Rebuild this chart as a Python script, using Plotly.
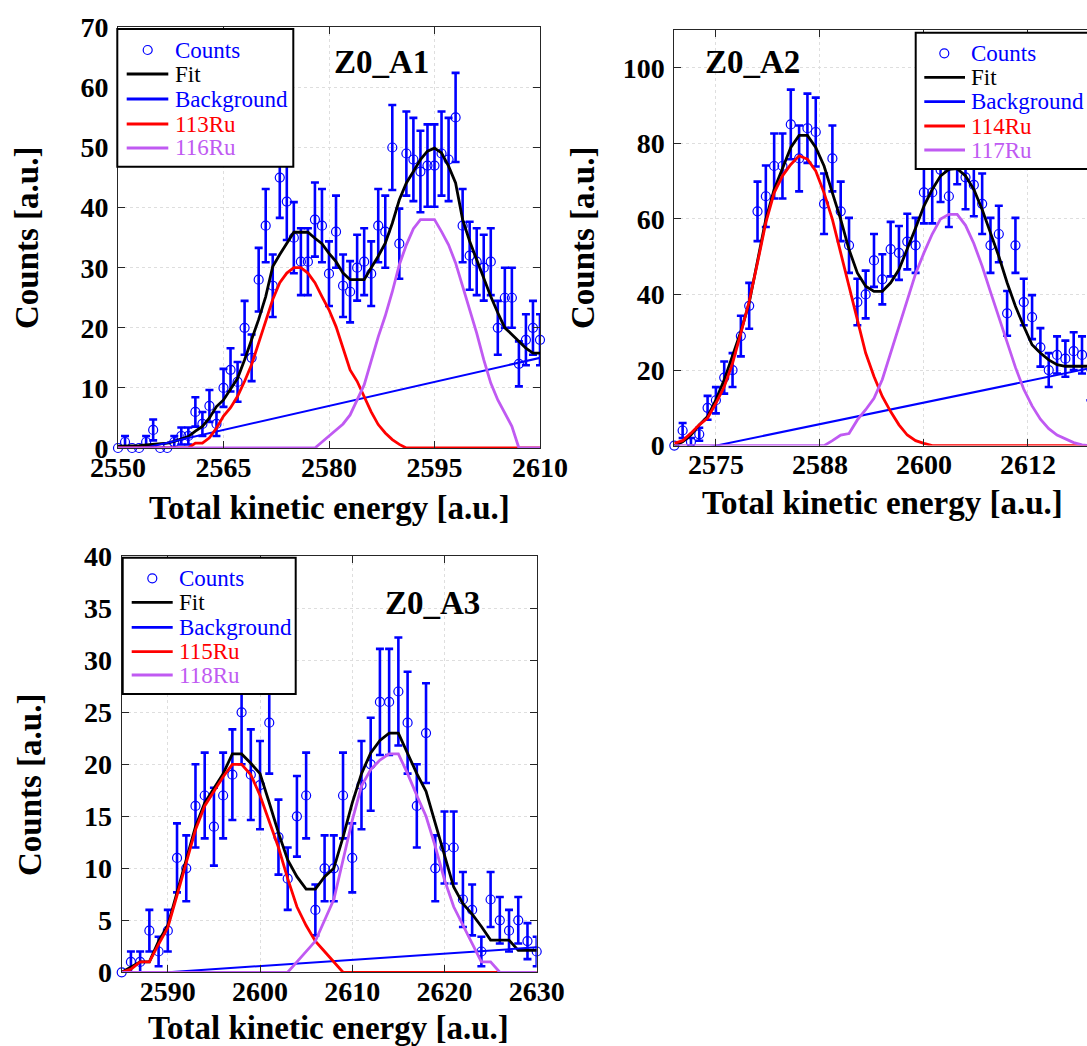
import numpy as np
import plotly.graph_objects as go

W, H = 1087, 1046
FONT = "Liberation Serif"
BLUE = "#0000FF"
RED = "#FF0000"
PURPLE = "#C05AF2"
BLACK = "#000000"
FRAME = "#262626"

# ---------------- data: Z0_A1 ----------------
a1_x = list(range(2550, 2611))
a1_counts = [0, 1, 0, 0, 1, 3, 0, 0, 1, 2, 2,
             6, 4, 7, 4, 10, 13, 11, 20, 15, 28,
             37, 27, 45, 41, 35, 31, 31, 38, 37, 29,
             36, 27, 26, 30, 31, 29, 37, 36, 50, 34,
             49, 48, 46, 47, 47, 49, 48, 55, 37, 32,
             31, 30, 31, 20, 25, 25, 14, 18, 20, 18]
a1_fit = [0.3, 0.3, 0.3, 0.4, 0.5, 0.6, 0.7, 0.8, 1.1, 1.5, 1.9,
          2.8, 3.6, 5.0, 6.9, 8.0, 9.7, 11.6, 14.7, 18.0, 21.4,
          25.2, 30.2, 32.2, 34.0, 35.9, 35.9, 35.9, 34.9, 34.0, 32.4,
          31.0, 29.1, 28.0, 28.0, 28.0, 30.0, 31.9, 34.1, 37.4, 41.3,
          44.1, 46.0, 48.0, 49.4, 49.9, 49.1, 46.9, 44.1, 38.0, 34.4,
          31.3, 28.0, 25.2, 22.5, 20.0, 18.9, 17.7, 16.6, 15.8, 15.8]
a1_iso1 = [0] * 11 + [0.8, 0.8, 1.7, 3.3, 5.3, 6.7, 8.6, 11.1, 13.9, 17.5,
                      21.4, 24.7, 27.5, 29.1, 30.0, 30.0, 29.1, 27.5, 25.2, 23.0,
                      20.2, 16.4, 13.0, 11.1, 8.6, 6.0, 3.9, 2.5, 1.4, 0.6] + [0] * 20
a1_iso2 = [0] * 29 + [1, 2, 3, 4, 5.5, 8, 10.5, 14.5, 18.5, 22,
                      26, 30.5, 33.8, 36.5, 38, 38, 38, 36, 33.8, 30.8,
                      26.9, 23, 19.1, 14.7, 10.8, 8, 5.8, 3.6, 0, 0, 0, 0]
a1_bg_x = [2550, 2610]
a1_bg_y = [-1.0, 15.0]

# ---------------- data: Z0_A2 ----------------
a2_x = list(range(2570, 2621))
a2_counts = [0, 4, 1, 3, 10, 12, 18, 20, 29, 37,
             62, 66, 74, 74, 85, 76, 84, 83, 64, 76,
             62, 53, 38, 40, 49, 44, 52, 51, 54, 53,
             67, 67, 73, 66, 78, 71, 69, 64, 53, 56,
             35, 53, 38, 34, 26, 20, 24, 23, 25, 24,
             16]
a2_fit = [0, 1, 2.8, 5.5, 7.7, 12.1, 17.4, 23.6, 30.2, 37.8,
          48.4, 59.9, 67.8, 73.6, 78.9, 82.1, 82.1, 78.9, 74, 66.9,
          59.9, 51.9, 45.7, 42.2, 40.8, 40.8, 43.1, 46.6, 51.9, 57.6,
          63.4, 67.8, 71.4, 73.1, 73.3, 71.4, 67.8, 62.5, 56.3, 50.1,
          43.1, 36.9, 31.6, 26.7, 24.5, 22.7, 21.4, 21, 21, 21,
          21]
a2_iso1 = [0.6, 1.3, 3.3, 5.5, 7.3, 11.2, 15.6, 21.8, 29.8, 38.2,
           48.4, 59, 66.9, 71.4, 74.4, 76.7, 75.8, 72.7, 66.9, 59.9,
           51, 42.2, 33.3, 24.5, 18.3, 13, 9, 5.5, 2.8, 1.3,
           0.6] + [0] * 20
a2_iso2 = [0] * 19 + [1.3, 2.8, 3.2, 6.8, 9.5, 12.5, 17.5, 24.5, 31.6, 39,
                      45.5, 51, 56, 60, 61.2, 61.2, 58.3, 53.5, 47.5, 40.7,
                      34, 27, 20.7, 14.9, 10.5, 7, 4.5, 2.8, 1.7, 0.8, 0.2, 0]
a2_bg_x = [2570, 2620]
a2_bg_y = [-2.3, 20.5]

# ---------------- data: Z0_A3 ----------------
a3_x = list(range(2585, 2631))
a3_counts = [0, 1, 1, 4, 2, 4, 11, 10, 16, 17,
             14, 17, 19, 25, 19, 18, 24, 13, 9, 15,
             17, 6, 10, 10, 17, 11, 18, 20, 26, 26,
             27, 24, 16, 23, 10, 12, 12, 7, 6, 2,
             7, 5, 4, 5, 3, 2]
a3_fit = [0, 0.5, 1, 1, 3, 4.5, 7.6, 10.8, 14, 16.3,
          17.7, 19.1, 21, 21, 20.1, 19.1, 16.3, 13.4, 10.8, 9.2,
          8, 8, 9.2, 10, 13, 16.3, 19.1, 21.1, 22.3, 23,
          23, 21.1, 19.1, 17.4, 14.3, 11.4, 8.2, 6.6, 5.6, 4.4,
          3.1, 3.1, 3.1, 2.1, 2.1, 2.1]
a3_iso1 = [0, 0.3, 1, 1, 2.7, 4.3, 7.4, 10.6, 13.7, 16,
           17.4, 18.8, 20, 20, 19, 17, 14.5, 12, 9, 6.3,
           4.5, 3, 2, 1, 0] + [0] * 21
a3_iso2 = [0] * 19 + [1, 2, 3, 5, 7, 10.8, 14.6, 17.9, 19.5, 20.4,
                      21, 21, 19.1, 17, 15, 12.1, 8.9, 6.3, 4.5, 2.8,
                      1, 1, 0] + [0] * 4
a3_bg_x = [2585, 2630]
a3_bg_y = [-0.3, 2.4]


def px(x):
    return x / W


def py(y):
    return 1 - y / H


panels = [
    dict(ax="", x=a1_x, counts=a1_counts, fit=a1_fit, iso1=a1_iso1, iso2=a1_iso2,
         bgx=a1_bg_x, bgy=a1_bg_y, names=("113Ru", "116Ru")),
    dict(ax="2", x=a2_x, counts=a2_counts, fit=a2_fit, iso1=a2_iso1, iso2=a2_iso2,
         bgx=a2_bg_x, bgy=a2_bg_y, names=("114Ru", "117Ru")),
    dict(ax="3", x=a3_x, counts=a3_counts, fit=a3_fit, iso1=a3_iso1, iso2=a3_iso2,
         bgx=a3_bg_x, bgy=a3_bg_y, names=("115Ru", "118Ru")),
]

fig = go.Figure()
for p in panels:
    xa, ya = "x" + p["ax"], "y" + p["ax"]
    cnt = np.array(p["counts"], dtype=float)
    fig.add_trace(go.Scatter(
        x=p["x"], y=cnt, mode="markers", xaxis=xa, yaxis=ya, showlegend=False,
        cliponaxis=False,
        marker=dict(symbol="circle-open", size=9, color=BLUE, line=dict(width=1.2, color=BLUE)),
        error_y=dict(type="data", array=np.sqrt(cnt), color=BLUE, thickness=2.6, width=4)))
    fig.add_trace(go.Scatter(x=p["x"], y=p["fit"], mode="lines", xaxis=xa, yaxis=ya,
                             showlegend=False, line=dict(color=BLACK, width=2.8)))
    fig.add_trace(go.Scatter(x=p["bgx"], y=p["bgy"], mode="lines", xaxis=xa, yaxis=ya,
                             showlegend=False, line=dict(color=BLUE, width=2)))
    fig.add_trace(go.Scatter(x=p["x"], y=p["iso1"], mode="lines", xaxis=xa, yaxis=ya,
                             showlegend=False, line=dict(color=RED, width=2.8)))
    fig.add_trace(go.Scatter(x=p["x"], y=p["iso2"], mode="lines", xaxis=xa, yaxis=ya,
                             showlegend=False, line=dict(color=PURPLE, width=2.8)))

tickfont = dict(family=FONT, size=28, color="black", weight="bold")
common = dict(showline=True, linecolor=FRAME, linewidth=1, mirror="ticks",
              ticks="inside", ticklen=7, tickwidth=1, tickcolor=FRAME,
              showgrid=True, gridcolor="#dedede", griddash="dot", gridwidth=1,
              zeroline=False, tickfont=tickfont)
XSO = -6
YSO = 3

fig.update_layout(
    xaxis=dict(common, domain=[px(118), px(540)], range=[2550, 2610], anchor="y",
               tickvals=[2550, 2565, 2580, 2595, 2610], ticklabelstandoff=XSO),
    yaxis=dict(common, domain=[py(448), py(27.3)], range=[0, 70], anchor="x",
               tickvals=[0, 10, 20, 30, 40, 50, 60, 70], ticklabelstandoff=YSO),
    xaxis2=dict(common, domain=[px(674.3), 1.0], range=[2570, 2619.6], anchor="y2",
                tickvals=[2575, 2587.5, 2600, 2612.5],
                ticktext=["2575", "2588", "2600", "2612"], ticklabelstandoff=XSO),
    yaxis2=dict(common, domain=[py(445.6), py(30)], range=[0, 110], anchor="x2",
                tickvals=[0, 20, 40, 60, 80, 100], ticklabelstandoff=YSO),
    xaxis3=dict(common, domain=[px(121.7), px(536.7)], range=[2585, 2630], anchor="y3",
                tickvals=[2590, 2600, 2610, 2620, 2630], ticklabelstandoff=XSO),
    yaxis3=dict(common, domain=[py(972.3), py(556.3)], range=[0, 40], anchor="x3",
                tickvals=[0, 5, 10, 15, 20, 25, 30, 35, 40], ticklabelstandoff=YSO),
)
fig.layout.yaxis2.mirror = False

annotations = []
shapes = []
title_font = dict(family=FONT, size=33, color="black", weight="bold")


def ann(x, y, text, font, angle=0, xanchor="center"):
    annotations.append(dict(x=px(x), y=py(y), xref="paper", yref="paper", text=text,
                            showarrow=False, font=font, textangle=angle,
                            xanchor=xanchor, yanchor="middle"))


# panel titles
ann(381, 62, "Z0_A1", title_font)
ann(753, 62, "Z0_A2", title_font)
ann(432, 603, "Z0_A3", title_font)
# axis titles
ann(27, 238, "Counts [a.u.]", title_font, angle=-90)
ann(329, 508, "Total kinetic energy [a.u.]", title_font)
ann(583, 238, "Counts [a.u.]", title_font, angle=-90)
ann(882, 503, "Total kinetic energy [a.u.]", title_font)
ann(30, 785, "Counts [a.u.]", title_font, angle=-90)
ann(328, 1028, "Total kinetic energy [a.u.]", title_font)

# legends (drawn boxes)
legends = [
    dict(box=(117.3, 29, 293.3, 166.7), rows=[50, 74, 99, 124, 148],
         line=(126.7, 168.3), mk=147.7, tx=172.7, names=panels[0]["names"]),
    dict(box=(915.7, 32.7, 1100, 169), rows=[53.3, 77.3, 101.7, 126, 150],
         line=(924.3, 965), mk=944.3, tx=969.3, names=panels[1]["names"]),
    dict(box=(122.7, 557.7, 295.7, 694), rows=[578.3, 602.3, 627.3, 651.7, 675],
         line=(131.7, 172.7), mk=152.3, tx=176.7, names=panels[2]["names"]),
]
for lg in legends:
    x0, y0, x1, y1 = lg["box"]
    shapes.append(dict(type="rect", xref="paper", yref="paper", layer="above",
                       x0=px(x0), x1=px(x1), y0=py(y1), y1=py(y0),
                       fillcolor="white", line=dict(color="black", width=2)))
    r = lg["rows"]
    # Counts marker
    shapes.append(dict(type="circle", xref="paper", yref="paper", layer="above",
                       x0=px(lg["mk"] - 4.5), x1=px(lg["mk"] + 4.5),
                       y0=py(r[0] + 4.5), y1=py(r[0] - 4.5),
                       line=dict(color=BLUE, width=1.2)))
    items = [("Counts", BLUE, None), ("Fit", BLACK, BLACK), ("Background", BLUE, BLUE),
             (lg["names"][0], RED, RED), (lg["names"][1], PURPLE, PURPLE)]
    for (label, tcol, lcol), ry in zip(items, r):
        if lcol is not None:
            shapes.append(dict(type="line", xref="paper", yref="paper", layer="above",
                               x0=px(lg["line"][0]), x1=px(lg["line"][1]),
                               y0=py(ry), y1=py(ry),
                               line=dict(color=lcol, width=2.8)))
        ann(lg["tx"], ry, label, dict(family=FONT, size=23, color=tcol), xanchor="left")

fig.update_layout(
    width=W, height=H,
    margin=dict(l=0, r=0, t=0, b=0, autoexpand=False),
    paper_bgcolor="white", plot_bgcolor="white",
    showlegend=False,
    annotations=annotations, shapes=shapes,
)

fig.write_html("out.html")
